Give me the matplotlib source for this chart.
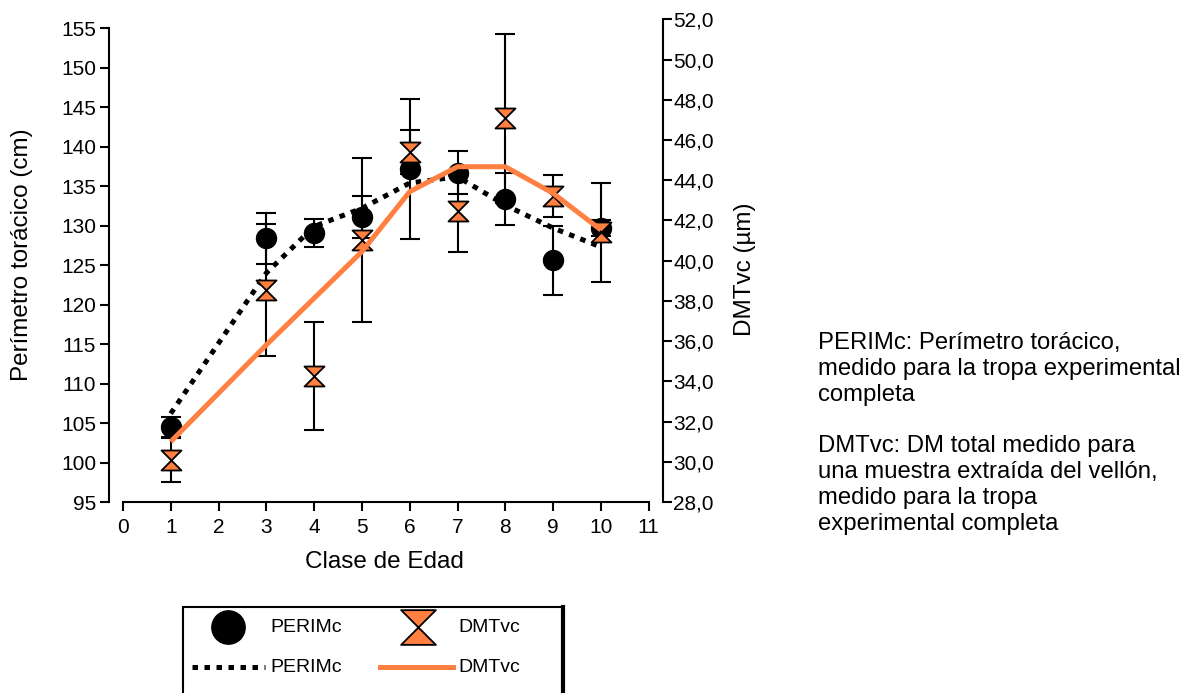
import matplotlib
matplotlib.use("Agg")
import matplotlib.pyplot as plt
from matplotlib.path import Path
from matplotlib.patches import Rectangle
from matplotlib.lines import Line2D
from matplotlib.ticker import FuncFormatter

plt.rcParams['font.family'] = ['Liberation Sans', 'DejaVu Sans']

# Age classes (no class 2 recorded)
classes = [1, 3, 4, 5, 6, 7, 8, 9, 10]

# Chest girth (cm): mean and error
perim_mean = [104.5, 128.4, 129.1, 131.1, 137.2, 136.7, 133.4, 125.6, 129.7]
perim_err = [1.25, 3.2, 1.75, 2.65, 8.9, 2.75, 3.3, 4.4, 1.05]
# Chest girth trend line
perim_line = [106.2, 124.0, 129.9, 132.2, 135.4, 136.2, 132.6, 129.7, 127.3]

# Fibre diameter (µm): mean and error
dmt_mean = [30.1, 38.55, 34.26, 41.03, 45.4, 42.49, 47.08, 43.2, 41.41]
dmt_err = [1.1, 3.27, 2.68, 4.09, 1.1, 2.04, 4.19, 1.04, 2.47]
# Fibre diameter trend line
dmt_line = [31.0, 35.81, 38.13, 40.45, 43.43, 44.67, 44.67, 43.35, 41.53]

x_ticks = list(range(0, 12))
left_ticks = list(range(95, 160, 5))
right_ticks = list(range(28, 54, 2))

ORANGE = "#FF8040"
W, H = 1196, 693
DPI = 100


def fx(px):
    return px / W


def fy(py):
    return 1 - py / H


# hourglass marker: two triangles meeting at their tips
hourglass = Path([(-1, 1), (1, 1), (-1, -1), (1, -1), (-1, 1)],
                 [Path.MOVETO, Path.LINETO, Path.LINETO, Path.LINETO, Path.CLOSEPOLY])

fig = plt.figure(figsize=(W / DPI, H / DPI), dpi=DPI)

x0, x1 = 122.9, 648.7
ybot = 502
ax = fig.add_axes([fx(x0), fy(ybot), (x1 - x0) / W, (ybot - 28.3) / H])
ax2 = fig.add_axes([fx(x0), fy(ybot), (x1 - x0) / W, (ybot - 19.3) / H])

lw_axis = 1.5
tick_fs = 15

# ---- left axis: chest girth ----
ax.set_xlim(0, 11)
ax.set_ylim(95, 155)
ax.spines['top'].set_visible(False)
ax.spines['right'].set_visible(False)
ax.spines['left'].set_position(('outward', 13.6 * 0.72))
for s in ('left', 'bottom'):
    ax.spines[s].set_linewidth(lw_axis)
ax.set_xticks(x_ticks)
ax.set_yticks(left_ticks)
ax.tick_params(axis='both', direction='out', length=6.5, width=lw_axis,
               labelsize=tick_fs, color='black')
ax.tick_params(axis='x', pad=5)
ax.tick_params(axis='y', pad=3)
ax.patch.set_visible(False)

ax.errorbar(classes, perim_mean, yerr=perim_err, fmt='none', ecolor='black',
            elinewidth=1.5, capsize=7, capthick=1.5, zorder=2)
ax.plot(classes, perim_mean, 'o', color='black', markersize=14.4, zorder=3,
        linestyle='none')
ax.plot(classes, perim_line, color='black', linewidth=3.6,
        linestyle=(0, (1.1, 1.3)), zorder=4)

# ---- right axis: fibre diameter ----
ax2.set_xlim(0, 11)
ax2.set_ylim(28, 52)
ax2.patch.set_visible(False)
for s in ('top', 'left', 'bottom'):
    ax2.spines[s].set_visible(False)
ax2.spines['right'].set_position(('outward', 14 * 0.72))
ax2.spines['right'].set_linewidth(lw_axis)
ax2.set_xticks([])
ax2.yaxis.tick_right()
ax2.set_yticks(right_ticks)
ax2.yaxis.set_major_formatter(FuncFormatter(lambda v, p: f"{v:.1f}".replace('.', ',')))
ax2.tick_params(axis='y', direction='out', length=6.5, width=lw_axis,
                labelsize=tick_fs, pad=1, color='black')

ax2.errorbar(classes, dmt_mean, yerr=dmt_err, fmt='none', ecolor='black',
             elinewidth=1.5, capsize=7, capthick=1.5, zorder=2)
ax2.plot(classes, dmt_mean, marker=hourglass, color=ORANGE, markeredgecolor='black',
         markeredgewidth=1.3, markersize=14.4, linestyle='none', zorder=3)
ax2.plot(classes, dmt_line, color=ORANGE, linewidth=3.6, zorder=4,
         solid_capstyle='butt')

# ---- axis titles ----
label_fs = 17.5
fig.text(fx(384), fy(562), "Clase de Edad", ha='center', va='center', fontsize=label_fs)
fig.text(fx(22), fy(255), "Perímetro torácico (cm)", ha='center', va='center',
         rotation=90, fontsize=label_fs)
fig.text(fx(745), fy(269), "DMTvc (µm)", ha='center', va='center',
         rotation=90, fontsize=label_fs)

# ---- side notes ----
note_lines = [
    (343, "PERIMc: Perímetro torácico,"),
    (369, "medido para la tropa experimental"),
    (395, "completa"),
    (446, "DMTvc: DM total medido para"),
    (472, "una muestra extraída del vellón,"),
    (498, "medido para la tropa"),
    (524, "experimental completa"),
]
for y, t in note_lines:
    fig.text(fx(818), fy(y), t, ha='left', va='center', fontsize=17.2)

# ---- legend box ----
fig.add_artist(Rectangle((fx(183), fy(720)), (562.7 - 183) / W, (720 - 606.7) / H,
                         transform=fig.transFigure, fill=False, edgecolor='black',
                         linewidth=1.5, clip_on=False))
fig.add_artist(Line2D([fx(562.7), fx(562.7)], [fy(606.7), fy(720)], color='black',
                      linewidth=3, transform=fig.transFigure))
fig.add_artist(Line2D([fx(227.7)], [fy(627.3)], marker='o', color='black',
                      markersize=24, linestyle='none', transform=fig.transFigure))
fig.add_artist(Line2D([fx(417.7)], [fy(627.3)], marker=hourglass, color=ORANGE,
                      markeredgecolor='black', markeredgewidth=1.3, markersize=25,
                      linestyle='none', transform=fig.transFigure))
fig.add_artist(Line2D([fx(192), fx(265)], [fy(667.3), fy(667.3)], color='black',
                      linewidth=3.6, linestyle=(0, (1.1, 1.3)),
                      transform=fig.transFigure))
fig.add_artist(Line2D([fx(380), fx(453.3)], [fy(667.3), fy(667.3)], color=ORANGE,
                      linewidth=3.6, transform=fig.transFigure))
leg_fs = 14
for xx, yy, t in [(270.7, 627.3, "PERIMc"), (458, 627.3, "DMTvc"),
                  (270.7, 667.3, "PERIMc"), (458, 667.3, "DMTvc")]:
    fig.text(fx(xx), fy(yy), t, ha='left', va='center', fontsize=leg_fs)

fig.savefig("out.png", dpi=DPI)
